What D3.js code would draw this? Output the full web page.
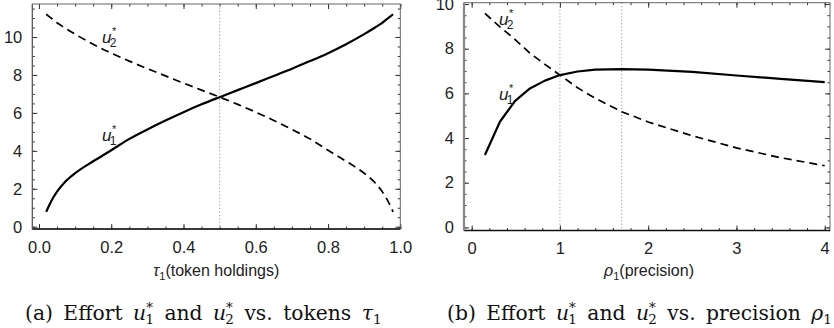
<!DOCTYPE html>
<html>
<head>
<meta charset="utf-8">
<script src="https://cdn.jsdelivr.net/npm/d3@7/dist/d3.min.js"></script>
<style>
  body { margin: 0; background: #fff; }
  svg { display: block; }
  .tick text { font-family: "Liberation Sans", Arial, sans-serif; font-size: 16.5px; fill: #222; }
</style>
</head>
<body>
<svg id="chart" width="834" height="328"></svg>
<script>
// panel (a): effort vs token holdings tau1
const tau   = [0.02, 0.03, 0.04, 0.05, 0.07, 0.1, 0.15, 0.2, 0.25, 0.3, 0.35, 0.4, 0.45, 0.5,
               0.55, 0.6, 0.65, 0.7, 0.75, 0.8, 0.85, 0.9, 0.93, 0.95, 0.96, 0.97, 0.98];
const tauU1 = [0.78, 1.2, 1.55, 1.85, 2.32, 2.82, 3.45, 4.03, 4.63, 5.13, 5.6, 6.04, 6.45, 6.83,
               7.2, 7.57, 7.95, 8.33, 8.73, 9.15, 9.62, 10.15, 10.5, 10.75, 10.9, 11.05, 11.2];
const tauU2 = [11.2, 11.05, 10.9, 10.75, 10.5, 10.15, 9.62, 9.15, 8.73, 8.33, 7.95, 7.57, 7.2, 6.83,
               6.45, 6.04, 5.6, 5.13, 4.63, 4.03, 3.45, 2.82, 2.32, 1.85, 1.55, 1.2, 0.78];
const tauTicks = [0, 0.2, 0.4, 0.6, 0.8, 1.0];
const tauTickLabels = ["0.0", "0.2", "0.4", "0.6", "0.8", "1.0"];
const tauMarks = [0.5];

// panel (b): effort vs precision rho1
const rho   = [0.15, 0.32, 0.49, 0.66, 0.83, 1.0, 1.2, 1.4, 1.7, 2.0, 2.5, 3.0, 3.5, 4.0];
const rhoU1 = [3.24, 4.73, 5.65, 6.22, 6.57, 6.82, 6.98, 7.06, 7.09, 7.06, 6.96, 6.8, 6.65, 6.5];
const rhoU2 = [9.58, 8.98, 8.42, 7.8, 7.3, 6.82, 6.25, 5.78, 5.18, 4.72, 4.1, 3.56, 3.12, 2.76];
const rhoTicks = [0, 1, 2, 3, 4];
const rhoTickLabels = ["0", "1", "2", "3", "4"];
const rhoMarks = [1, 1.7];

const effortTicks = [0, 2, 4, 6, 8, 10];

const svg = d3.select("#chart");

function drawPanel(p) {
  const x = d3.scaleLinear().domain(p.xDomain).range([p.left, p.right]);
  const y = d3.scaleLinear().domain(p.yDomain).range([p.bottom, p.top]);
  const g = svg.append("g");

  // dotted reference lines
  g.selectAll("line.mark")
    .data(p.marks)
    .enter()
    .append("line")
    .attr("x1", d => x(d)).attr("x2", d => x(d))
    .attr("y1", p.top).attr("y2", p.bottom)
    .attr("stroke", "#999")
    .attr("stroke-width", 1)
    .attr("stroke-dasharray", "1.2,2.2");

  // minor ticks, all four sides
  const minorX = d3.range(0, p.xMax + 1e-9, p.xMinor);
  const minorY = d3.range(0, p.yMax + 1e-9, 0.5);
  const axes = [
    [d3.axisBottom(x), p.bottom, "x"],
    [d3.axisTop(x), p.top, "x"],
    [d3.axisLeft(y), p.left, "y"],
    [d3.axisRight(y), p.right, "y"]
  ];
  axes.forEach(([ax, pos, kind]) => {
    const tr = kind === "x" ? "translate(0," + pos + ")" : "translate(" + pos + ",0)";
    const minor = g.append("g").attr("transform", tr)
      .call(ax.tickValues(kind === "x" ? minorX : minorY).tickSize(-2.5).tickFormat(""));
    minor.select(".domain").remove();
    minor.selectAll(".tick line").attr("stroke", "#333");
  });

  // major ticks with labels on left and bottom
  const xAx = g.append("g").attr("transform", "translate(0," + p.bottom + ")")
    .call(d3.axisBottom(x).tickValues(p.xTicks).tickSize(-5).tickPadding(12)
      .tickFormat((d, i) => p.xTickLabels[i]));
  const xTop = g.append("g").attr("transform", "translate(0," + p.top + ")")
    .call(d3.axisTop(x).tickValues(p.xTicks).tickSize(-5).tickFormat(""));
  const yAx = g.append("g").attr("transform", "translate(" + p.left + ",0)")
    .call(d3.axisLeft(y).tickValues(effortTicks).tickSize(-5).tickPadding(10));
  const yRight = g.append("g").attr("transform", "translate(" + p.right + ",0)")
    .call(d3.axisRight(y).tickValues(effortTicks).tickSize(-5).tickFormat(""));
  [xAx, xTop, yAx, yRight].forEach(a => {
    a.select(".domain").remove();
    a.selectAll(".tick line").attr("stroke", "#333");
  });

  // frame
  g.append("rect")
    .attr("x", p.left).attr("y", p.top)
    .attr("width", p.right - p.left).attr("height", p.bottom - p.top)
    .attr("fill", "none").attr("stroke", "#666").attr("stroke-width", 1);
  g.append("line")
    .attr("x1", p.left).attr("x2", p.right).attr("y1", p.bottom).attr("y2", p.bottom)
    .attr("stroke", "#111").attr("stroke-width", 1.3);
  g.append("line")
    .attr("x1", p.left).attr("x2", p.left).attr("y1", p.top).attr("y2", p.bottom)
    .attr("stroke", p.leftColor).attr("stroke-width", p.leftWidth);

  // curves
  const line = d3.line().x(d => x(d[0])).y(d => y(d[1])).curve(p.curve);
  g.append("path")
    .datum(p.xs.map((v, i) => [v, p.u2[i]]))
    .attr("d", line).attr("fill", "none")
    .attr("stroke", "#000").attr("stroke-width", 1.7)
    .attr("stroke-dasharray", "8,5");
  g.append("path")
    .datum(p.xs.map((v, i) => [v, p.u1[i]]))
    .attr("d", line).attr("fill", "none")
    .attr("stroke", "#000").attr("stroke-width", 2.2)
    .attr("stroke-linejoin", "round");

  // curve labels u*_1, u*_2
  p.labels.forEach(l => {
    const t = g.append("text")
      .attr("x", l.x).attr("y", l.y)
      .attr("font-family", "Liberation Sans, Arial, sans-serif")
      .attr("font-style", "italic").attr("font-size", 17).attr("fill", "#222");
    t.append("tspan").text("u");
    t.append("tspan").attr("font-size", 11).attr("dy", -8).attr("dx", 0).text("*");
    t.append("tspan").attr("font-size", 12).attr("font-style", "normal")
      .attr("dy", 12).attr("dx", -6).text(l.sub);
  });

  // axis title
  const at = g.append("text")
    .attr("x", (p.left + p.right) / 2 + p.titleShift).attr("y", 276)
    .attr("text-anchor", "middle")
    .attr("font-family", "Liberation Sans, Arial, sans-serif")
    .attr("font-size", 16).attr("fill", "#222");
  at.append("tspan").attr("font-style", "italic").text(p.sym);
  at.append("tspan").attr("font-size", 11).attr("dy", 4).text("1");
  at.append("tspan").attr("dy", -4).text(p.titleText);

  // caption
  const cap = g.append("text")
    .attr("x", p.capX).attr("y", 320)
    .attr("font-family", "DejaVu Serif, Liberation Serif, serif")
    .attr("font-size", 20.3).attr("fill", "#111")
    .attr("word-spacing", 4)
    .attr("xml:space", "preserve");
  cap.append("tspan").text(p.capPre + " Effort ");
  [["1", " and "], ["2", " vs. " + p.capWord + " "]].forEach(([s, after]) => {
    cap.append("tspan").attr("font-style", "italic").text("u");
    cap.append("tspan").attr("font-size", 13.5).attr("dy", -8).text("*");
    cap.append("tspan").attr("font-size", 13.5).attr("dy", 12).attr("dx", -7.5).text(s);
    cap.append("tspan").attr("dy", -4).text(after);
  });
  cap.append("tspan").attr("font-style", "italic").text(p.sym);
  cap.append("tspan").attr("font-size", 13.5).attr("dy", 4).text("1");
}

drawPanel({
  xs: tau, u1: tauU1, u2: tauU2, marks: tauMarks,
  xDomain: [-0.0185, 1.0], xMax: 1.0, xMinor: 0.05, yDomain: [-0.12, 11.74], yMax: 11.5,
  xTicks: tauTicks, xTickLabels: tauTickLabels,
  left: 32.3, right: 400.3, top: 4, bottom: 229,
  leftColor: "#555", leftWidth: 1,
  curve: d3.curveMonotoneX,
  labels: [{x: 102, y: 43, sub: "2"}, {x: 102, y: 141, sub: "1"}],
  sym: "τ", titleText: "(token holdings)", titleShift: 0,
  capX: 25, capPre: "(a)", capWord: "tokens"
});

drawPanel({
  xs: rho, u1: rhoU1, u2: rhoU2, marks: rhoMarks,
  xDomain: [-0.087, 4.06], xMax: 4.0, xMinor: 0.2, yDomain: [-0.14, 10.06], yMax: 10,
  xTicks: rhoTicks, xTickLabels: rhoTickLabels,
  left: 464, right: 830, top: 2.7, bottom: 230.5,
  leftColor: "#888", leftWidth: 2.2,
  curve: d3.curveLinear,
  labels: [{x: 499, y: 25, sub: "2"}, {x: 499, y: 100, sub: "1"}],
  sym: "ρ", titleText: "(precision)", titleShift: 2,
  capX: 447, capPre: "(b)", capWord: "precision"
});
</script>
</body>
</html>
